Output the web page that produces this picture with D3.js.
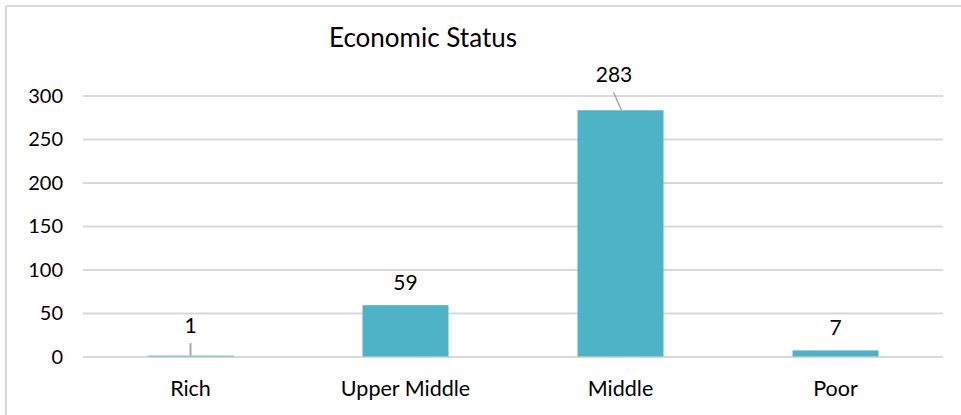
<!DOCTYPE html>
<html>
<head>
<meta charset="utf-8">
<script src="https://cdn.jsdelivr.net/npm/d3@7"></script>
<style>
  body { margin: 0; background: #fff; }
  text { font-family: Lato, "Open Sans", sans-serif; fill: #000; }
  .grid line { stroke: #d9d9d9; stroke-width: 2; }
</style>
</head>
<body>
<div id="chart"></div>
<script>
var categories = ["Rich", "Upper Middle", "Middle", "Poor"]
var counts = [1, 59, 283, 7]
var yTicks = [0, 50, 100, 150, 200, 250, 300]

var W = 961, H = 415
var margin = {top: 95.5, right: 18, bottom: 58.5, left: 83},
width = W - margin.left - margin.right,
height = H - margin.top - margin.bottom

var svg = d3.select("#chart").append("svg")
  .attr("width", W)
  .attr("height", H)

// chart frame (only top/left edges visible in the crop)
svg.append("line").attr("x1", 6).attr("x2", W).attr("y1", 6).attr("y2", 6)
  .style("stroke", "#d9d9d9").style("stroke-width", 2)
svg.append("line").attr("x1", 6).attr("x2", 6).attr("y1", 6).attr("y2", H)
  .style("stroke", "#d9d9d9").style("stroke-width", 2)

var g = svg.append("g")
  .attr("transform", "translate(" + margin.left + "," + margin.top + ")")

var x = d3.scaleBand().domain(categories).range([0, width]).padding(0)
var y = d3.scaleLinear().domain([0, 300]).range([height, 0])

g.append("g")
  .attr("class", "grid")
  .call(d3.axisLeft(y).tickValues(yTicks).tickSize(-width).tickFormat(""))
  .call(function(a){ a.select(".domain").remove() })

yTicks.forEach(function(t){
  g.append("text")
    .attr("x", -20)
    .attr("y", y(t))
    .attr("dy", "0.36em")
    .style("text-anchor", "end")
    .style("font-size", "20px")
    .text(t)
})

var barW = x.bandwidth() * 0.4

g.selectAll(".bar")
  .data(counts)
  .enter().append("rect")
    .attr("class", "bar")
    .attr("x", function(d, i){ return x(categories[i]) + (x.bandwidth() - barW) / 2 })
    .attr("width", barW)
    .attr("y", function(d){ return y(d) })
    .attr("height", function(d){ return height - y(d) })
    .style("fill", "#4fb3c8")

categories.forEach(function(c){
  g.append("text")
    .attr("x", x(c) + x.bandwidth() / 2)
    .attr("y", height + 39.5)
    .style("text-anchor", "middle")
    .style("font-size", "21.5px")
    .text(c)
})

// data labels, two of them pulled off with leader lines
var labelOffset = [[0, -22.5], [0, -15], [-6.5, -28], [0, -15]]
counts.forEach(function(d, i){
  var cx = x(categories[i]) + x.bandwidth() / 2
  g.append("text")
    .attr("x", cx + labelOffset[i][0])
    .attr("y", y(d) + labelOffset[i][1])
    .style("text-anchor", "middle")
    .style("font-size", "21px")
    .text(d)
})

g.append("line")
  .attr("x1", x("Rich") + x.bandwidth() / 2).attr("x2", x("Rich") + x.bandwidth() / 2)
  .attr("y1", y(counts[0]) - 12.5).attr("y2", y(counts[0]))
  .style("stroke", "#a6a6a6").style("stroke-width", 2)

g.append("line")
  .attr("x1", x("Middle") + x.bandwidth() / 2 - 7).attr("x2", x("Middle") + x.bandwidth() / 2 + 1)
  .attr("y1", y(counts[2]) - 18).attr("y2", y(counts[2]))
  .style("stroke", "#a6a6a6").style("stroke-width", 1.5)

svg.append("text")
  .attr("x", 423)
  .attr("y", 47)
  .style("text-anchor", "middle")
  .style("font-size", "26px")
  .text("Economic Status")
</script>
</body>
</html>
